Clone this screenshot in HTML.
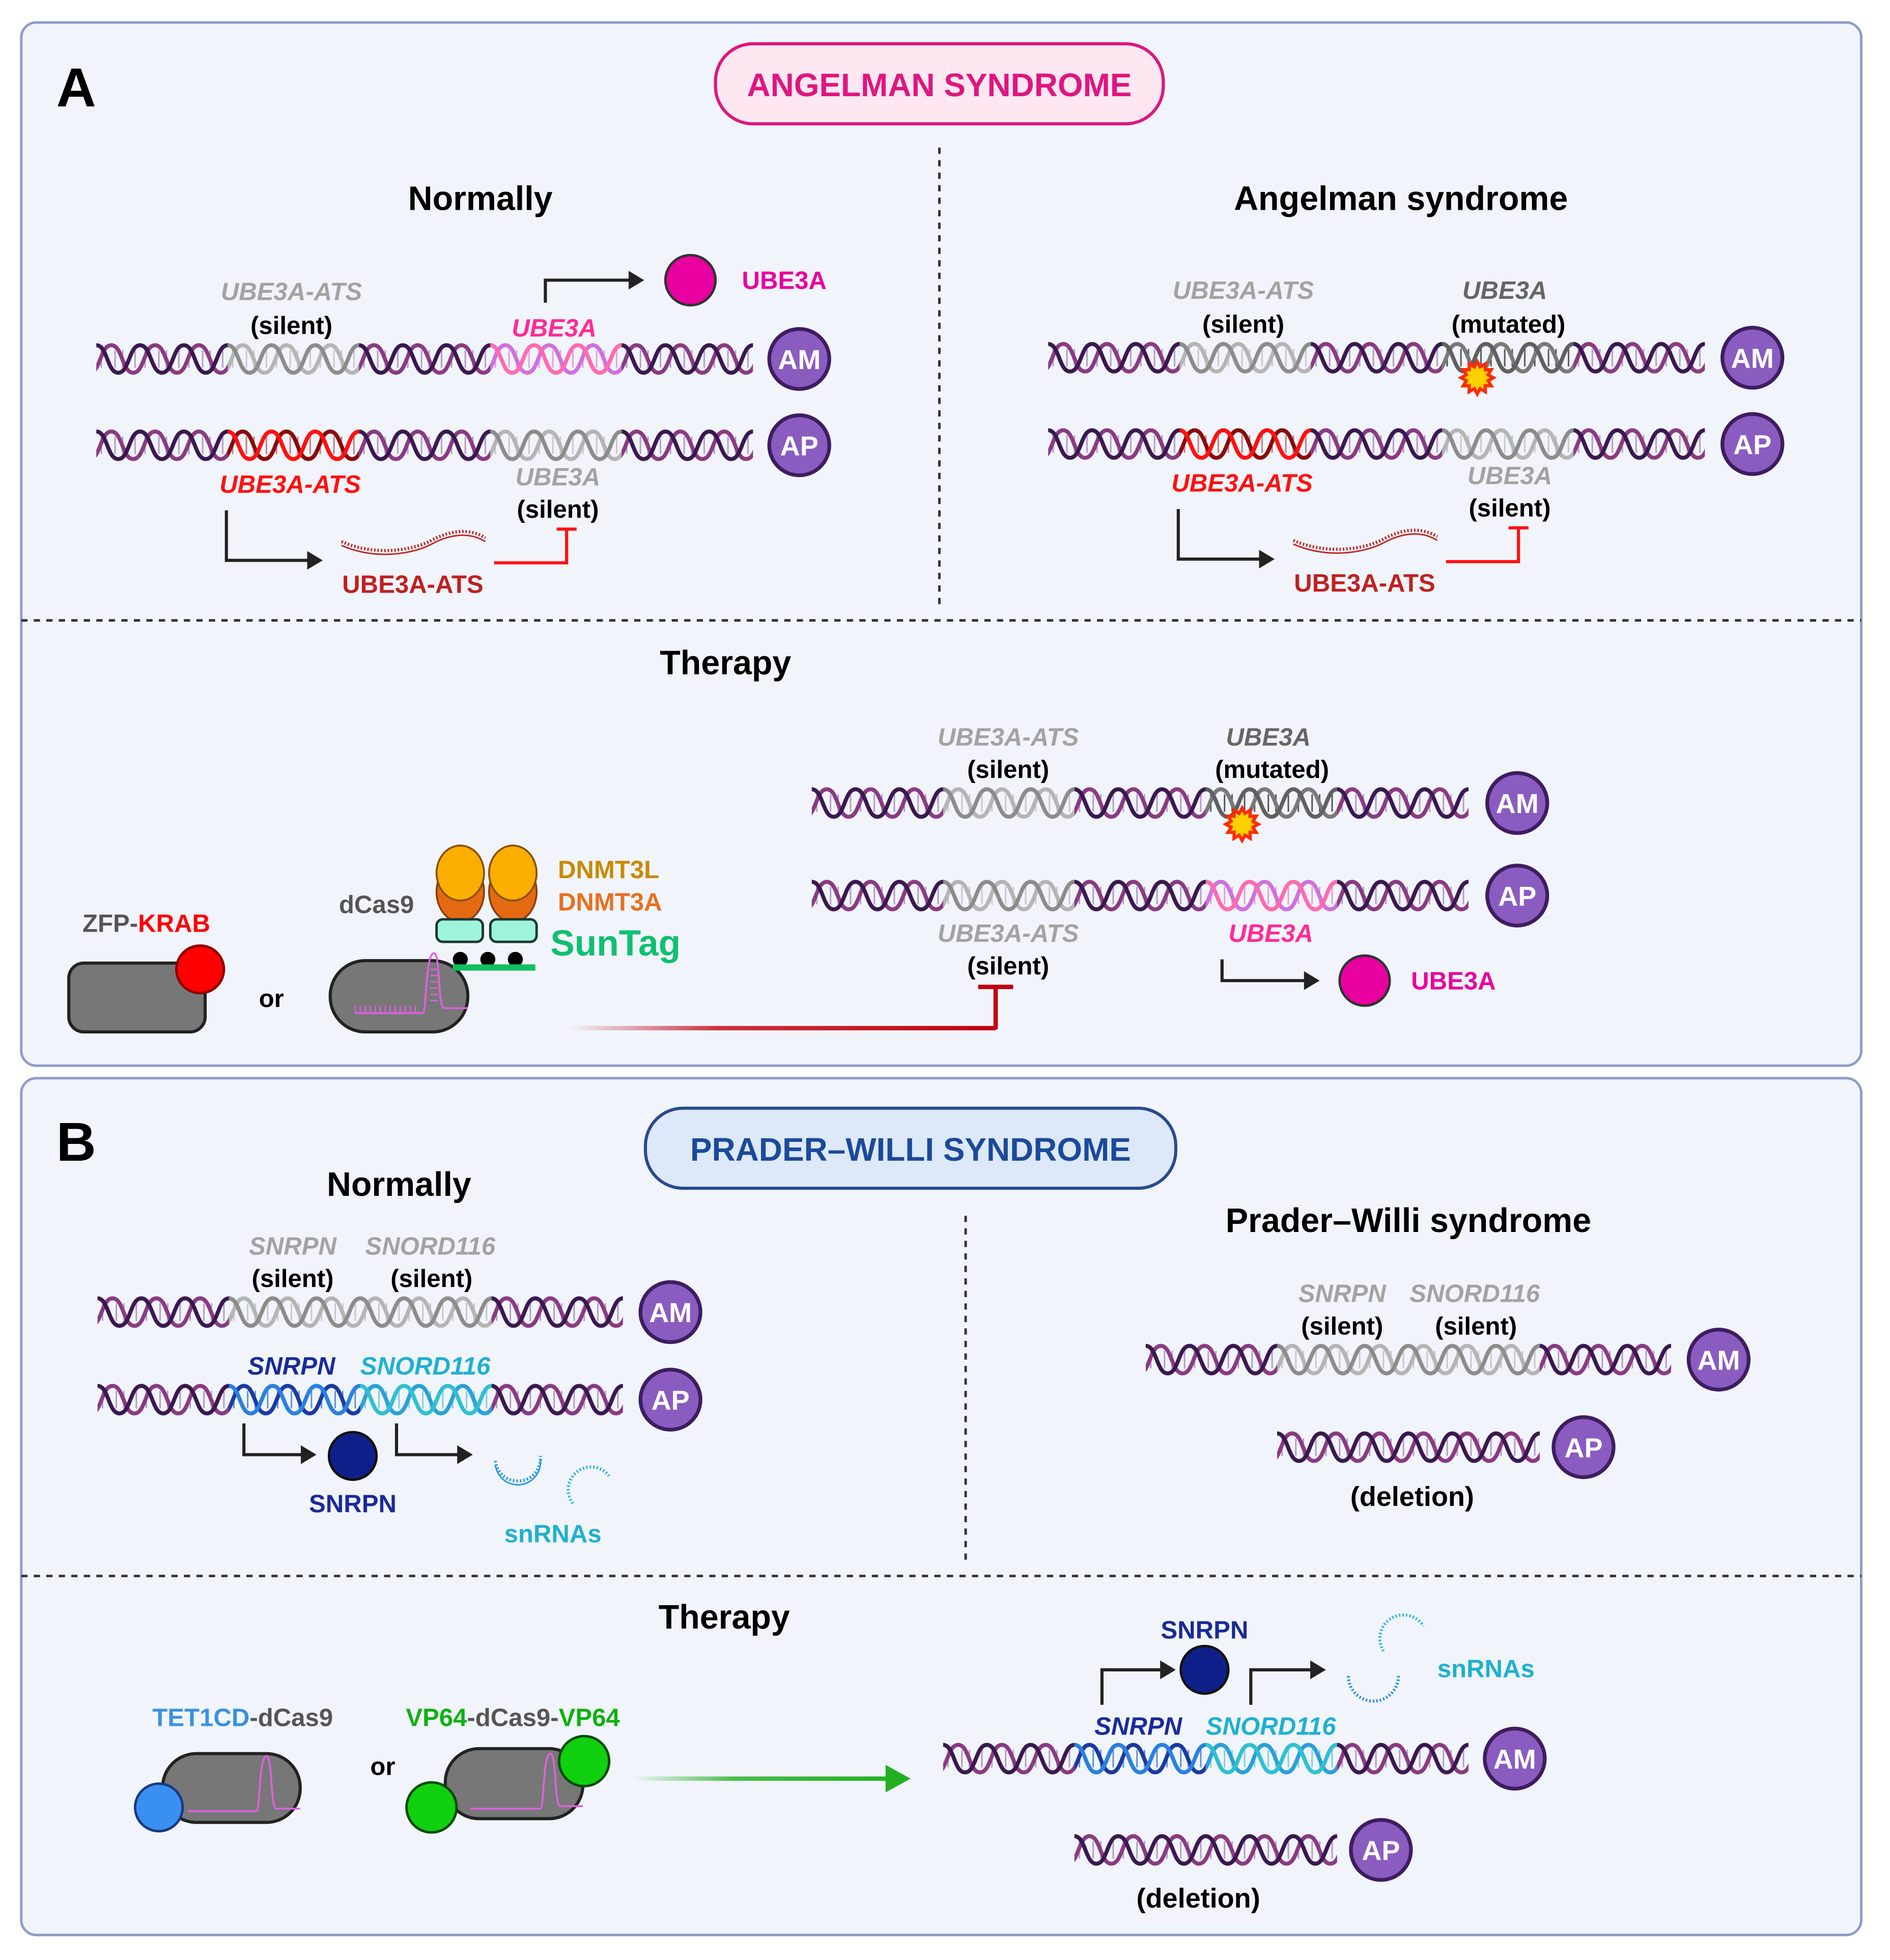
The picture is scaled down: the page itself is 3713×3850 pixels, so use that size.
<!DOCTYPE html>
<html><head><meta charset="utf-8"><style>
html,body{margin:0;padding:0;background:#fff}
svg{display:block}
text{font-family:"Liberation Sans",Arial,sans-serif;font-weight:bold}
</style></head><body>
<svg width="3713" height="3850" viewBox="0 0 1511 1567" preserveAspectRatio="none" xmlns="http://www.w3.org/2000/svg">
<defs>
<g id="rungs" stroke-width="1.2"><path d="M4,6V20M15,6V20M21,6V20M31,6V20"/></g>
<g id="sA"><path d="M0,2 C9,2 8.5,24 17.5,24 S26,2 35,2" fill="none"/></g>
<g id="sB"><path d="M-35,2 C-26,2 -26.5,24 -17.5,24 S-9,2 0,2 S8.5,24 17.5,24 S26,2 35,2" fill="none" transform="translate(12,0)"/></g>
<pattern id="pu" width="35" height="26" patternUnits="userSpaceOnUse"><use href="#rungs" stroke="#b89ac8"/><use href="#sB" stroke="#8a3a82" stroke-width="3.2"/><use href="#sA" stroke="#3a1850" stroke-width="3.2"/></pattern>
<pattern id="gr" width="35" height="26" patternUnits="userSpaceOnUse"><use href="#rungs" stroke="#c8c8c8"/><use href="#sB" stroke="#b5b5b5" stroke-width="3.2"/><use href="#sA" stroke="#8c8c8c" stroke-width="3.2"/></pattern>
<pattern id="dg" width="35" height="26" patternUnits="userSpaceOnUse"><use href="#rungs" stroke="#555"/><use href="#sB" stroke="#7a7a7a" stroke-width="3.2"/><use href="#sA" stroke="#606060" stroke-width="3.2"/></pattern>
<pattern id="pk" width="35" height="26" patternUnits="userSpaceOnUse"><use href="#rungs" stroke="#e0a0e0"/><use href="#sB" stroke="#d070e0" stroke-width="3.2"/><use href="#sA" stroke="#ff6ab0" stroke-width="3.2"/></pattern>
<pattern id="rd" width="35" height="26" patternUnits="userSpaceOnUse"><use href="#rungs" stroke="#c08080"/><use href="#sB" stroke="#8a0a0a" stroke-width="3.2"/><use href="#sA" stroke="#ff1010" stroke-width="3.2"/></pattern>
<pattern id="bl" width="35" height="26" patternUnits="userSpaceOnUse"><use href="#rungs" stroke="#6090d8"/><use href="#sB" stroke="#1a3aa0" stroke-width="3.2"/><use href="#sA" stroke="#2a80e0" stroke-width="3.2"/></pattern>
<pattern id="cy" width="35" height="26" patternUnits="userSpaceOnUse"><use href="#rungs" stroke="#80d0e0"/><use href="#sB" stroke="#2aa0d8" stroke-width="3.2"/><use href="#sA" stroke="#30c0d0" stroke-width="3.2"/></pattern>
<polygon id="star" points="13,0 8.69,2.33 11.26,6.5 6.36,6.36 6.5,11.26 2.33,8.69 0,13 -2.33,8.69 -6.5,11.26 -6.36,6.36 -11.26,6.5 -8.69,2.33 -13,0 -8.69,-2.33 -11.26,-6.5 -6.36,-6.36 -6.5,-11.26 -2.33,-8.69 0,-13 2.33,-8.69 6.5,-11.26 6.36,-6.36 11.26,-6.5 8.69,-2.33" fill="#ffd000" stroke="#ff2a00" stroke-width="2.5"/>
<marker id="ah" markerWidth="6" markerHeight="6" refX="1" refY="3" orient="auto" markerUnits="strokeWidth"><path d="M0,0L5,3L0,6z" fill="#222"/></marker>
<linearGradient id="redg" gradientUnits="userSpaceOnUse" x1="455" x2="796" y1="0" y2="0"><stop offset="0" stop-color="#c00010" stop-opacity="0"/><stop offset="0.35" stop-color="#c00010" stop-opacity="0.8"/><stop offset="1" stop-color="#c00010"/></linearGradient>
<linearGradient id="grng" gradientUnits="userSpaceOnUse" x1="505" x2="712" y1="0" y2="0"><stop offset="0" stop-color="#20b020" stop-opacity="0"/><stop offset="0.4" stop-color="#20b020" stop-opacity="0.8"/><stop offset="1" stop-color="#20b020"/></linearGradient>
<g id="chrAM"><circle r="24" fill="#8a5cc0" stroke="#3e1d60" stroke-width="3"/><text y="8" text-anchor="middle" font-size="22" fill="#fff">AM</text></g>
<g id="chrAP"><circle r="24" fill="#8a5cc0" stroke="#3e1d60" stroke-width="3"/><text y="8" text-anchor="middle" font-size="22" fill="#fff">AP</text></g>
</defs>

<rect x="0" y="0" width="1511" height="1567" fill="#fff"/>
<rect x="17" y="18" width="1471" height="834" rx="12" fill="#f1f5fb" stroke="#8e9cc8" stroke-width="2"/>
<rect x="17" y="862" width="1471" height="685" rx="12" fill="#f1f5fb" stroke="#8e9cc8" stroke-width="2"/>
<text x="45" y="85" font-size="44" fill="#000">A</text>
<text x="45" y="928" font-size="44" fill="#000">B</text>

<rect x="572" y="35" width="358" height="64" rx="30" fill="#fde8f2" stroke="#e0157f" stroke-width="2.5"/>
<text x="751" y="77" text-anchor="middle" font-size="26" fill="#e0157f">ANGELMAN SYNDROME</text>
<line x1="751" y1="118" x2="751" y2="485" stroke="#333" stroke-width="2" stroke-dasharray="5,5"/>
<line x1="17" y1="496" x2="1488" y2="496" stroke="#333" stroke-width="2" stroke-dasharray="5,5"/>
<text x="384" y="168" text-anchor="middle" font-size="27">Normally</text>
<text x="1120" y="168" text-anchor="middle" font-size="27">Angelman syndrome</text>

<text x="233" y="240" text-anchor="middle" font-size="20" font-style="italic" fill="#a3a3a3">UBE3A-ATS</text>
<text x="233" y="267" text-anchor="middle" font-size="20">(silent)</text>
<text x="443" y="269" text-anchor="middle" font-size="20" font-style="italic" fill="#ff2a96">UBE3A</text>
<path d="M436,242V224H505" fill="none" stroke="#222" stroke-width="2.5" marker-end="url(#ah)"/>
<circle cx="552" cy="224" r="20" fill="#e800a0" stroke="#333" stroke-width="2"/>
<text x="627" y="231" text-anchor="middle" font-size="20" fill="#e800a0">UBE3A</text>
<g transform="translate(77,274)"><rect width="106" height="26" fill="url(#pu)"/><rect x="105" width="105" height="26" fill="url(#gr)"/><rect x="210" width="105" height="26" fill="url(#pu)"/><rect x="315" width="105" height="26" fill="url(#pk)"/><rect x="420" width="105" height="26" fill="url(#pu)"/></g>
<use href="#chrAM" x="639" y="287"/>
<g transform="translate(77,343)"><rect width="106" height="26" fill="url(#pu)"/><rect x="105" width="105" height="26" fill="url(#rd)"/><rect x="210" width="105" height="26" fill="url(#pu)"/><rect x="315" width="105" height="26" fill="url(#gr)"/><rect x="420" width="105" height="26" fill="url(#pu)"/></g>
<use href="#chrAP" x="639" y="356"/>
<text x="232" y="394" text-anchor="middle" font-size="20" font-style="italic" fill="#ff1010">UBE3A-ATS</text>
<text x="446" y="388" text-anchor="middle" font-size="20" font-style="italic" fill="#a3a3a3">UBE3A</text>
<text x="446" y="414" text-anchor="middle" font-size="20">(silent)</text>
<path d="M181,408V448H248" fill="none" stroke="#222" stroke-width="2.5" marker-end="url(#ah)"/>
<path d="M273,433 C300,445 330,440 345,432 S375,422 388,430" fill="none" stroke="#c02828" stroke-width="2.5" stroke-dasharray="1.2,1.5"/>
<path d="M273,436 C300,448 330,443 345,435 S375,425 388,433" fill="none" stroke="#c02828" stroke-width="1.2"/>
<text x="330" y="474" text-anchor="middle" font-size="20" fill="#c02020">UBE3A-ATS</text>
<path d="M395,450H453V423M445,423H461" fill="none" stroke="#ff1010" stroke-width="2.5"/>

<text x="994" y="239" text-anchor="middle" font-size="20" font-style="italic" fill="#a3a3a3">UBE3A-ATS</text>
<text x="994" y="266" text-anchor="middle" font-size="20">(silent)</text>
<text x="1203" y="239" text-anchor="middle" font-size="20" font-style="italic" fill="#666">UBE3A</text>
<text x="1206" y="266" text-anchor="middle" font-size="20">(mutated)</text>
<g transform="translate(838,273)"><rect width="106" height="26" fill="url(#pu)"/><rect x="105" width="105" height="26" fill="url(#gr)"/><rect x="210" width="105" height="26" fill="url(#pu)"/><rect x="315" width="105" height="26" fill="url(#dg)"/><rect x="420" width="105" height="26" fill="url(#pu)"/></g>
<use href="#star" x="1181" y="302"/>
<use href="#chrAM" x="1401" y="286"/>
<g transform="translate(838,342)"><rect width="106" height="26" fill="url(#pu)"/><rect x="105" width="105" height="26" fill="url(#rd)"/><rect x="210" width="105" height="26" fill="url(#pu)"/><rect x="315" width="105" height="26" fill="url(#gr)"/><rect x="420" width="105" height="26" fill="url(#pu)"/></g>
<use href="#chrAP" x="1401" y="355"/>
<text x="993" y="393" text-anchor="middle" font-size="20" font-style="italic" fill="#ff1010">UBE3A-ATS</text>
<text x="1207" y="387" text-anchor="middle" font-size="20" font-style="italic" fill="#a3a3a3">UBE3A</text>
<text x="1207" y="413" text-anchor="middle" font-size="20">(silent)</text>
<path d="M942,407V447H1009" fill="none" stroke="#222" stroke-width="2.5" marker-end="url(#ah)"/>
<path d="M1034,432 C1061,444 1091,439 1106,431 S1136,421 1149,429" fill="none" stroke="#c02828" stroke-width="2.5" stroke-dasharray="1.2,1.5"/>
<path d="M1034,435 C1061,447 1091,442 1106,434 S1136,424 1149,432" fill="none" stroke="#c02828" stroke-width="1.2"/>
<text x="1091" y="473" text-anchor="middle" font-size="20" fill="#c02020">UBE3A-ATS</text>
<path d="M1156,449H1214V422M1206,422H1222" fill="none" stroke="#ff1010" stroke-width="2.5"/>

<text x="580" y="539" text-anchor="middle" font-size="27">Therapy</text>
<text x="806" y="596" text-anchor="middle" font-size="20" font-style="italic" fill="#a3a3a3">UBE3A-ATS</text>
<text x="806" y="622" text-anchor="middle" font-size="20">(silent)</text>
<text x="1014" y="596" text-anchor="middle" font-size="20" font-style="italic" fill="#666">UBE3A</text>
<text x="1017" y="622" text-anchor="middle" font-size="20">(mutated)</text>
<g transform="translate(649,629)"><rect width="106" height="26" fill="url(#pu)"/><rect x="105" width="105" height="26" fill="url(#gr)"/><rect x="210" width="105" height="26" fill="url(#pu)"/><rect x="315" width="105" height="26" fill="url(#dg)"/><rect x="420" width="105" height="26" fill="url(#pu)"/></g>
<use href="#star" x="993" y="659"/>
<use href="#chrAM" x="1213" y="642"/>
<g transform="translate(649,703)"><rect width="106" height="26" fill="url(#pu)"/><rect x="105" width="105" height="26" fill="url(#gr)"/><rect x="210" width="105" height="26" fill="url(#pu)"/><rect x="315" width="105" height="26" fill="url(#pk)"/><rect x="420" width="105" height="26" fill="url(#pu)"/></g>
<use href="#chrAP" x="1213" y="716"/>
<text x="806" y="753" text-anchor="middle" font-size="20" font-style="italic" fill="#a3a3a3">UBE3A-ATS</text>
<text x="806" y="779" text-anchor="middle" font-size="20">(silent)</text>
<text x="1016" y="753" text-anchor="middle" font-size="20" font-style="italic" fill="#ff2a96">UBE3A</text>
<path d="M977,767V784H1045" fill="none" stroke="#222" stroke-width="2.5" marker-end="url(#ah)"/>
<circle cx="1091" cy="784" r="20" fill="#e800a0" stroke="#333" stroke-width="2"/>
<text x="1162" y="791" text-anchor="middle" font-size="20" fill="#e800a0">UBE3A</text>
<path d="M455,822H796" fill="none" stroke="url(#redg)" stroke-width="3.5"/>
<path d="M796,823V790" stroke="#c00010" stroke-width="3.5"/>
<line x1="782" y1="789" x2="810" y2="789" stroke="#c00010" stroke-width="3.5"/>

<text x="117" y="745" text-anchor="middle" font-size="20"><tspan fill="#555">ZFP-</tspan><tspan fill="#ff0000">KRAB</tspan></text>
<rect x="55" y="770" width="109" height="55" rx="12" fill="#777" stroke="#222" stroke-width="2.5"/>
<circle cx="160" cy="775" r="19" fill="#ff0000" stroke="#8a0000" stroke-width="2"/>
<text x="217" y="805" text-anchor="middle" font-size="20">or</text>
<text x="301" y="730" text-anchor="middle" font-size="20" fill="#555">dCas9</text>
<rect x="264" y="768" width="110" height="57" rx="28" fill="#777" stroke="#222" stroke-width="2.5"/>
<path d="M284,810H338C341,810 340,762 347,762C352,762 350,806 355,806H374" fill="none" stroke="#e060e0" stroke-width="1.5"/>
<path d="M284,810V804M288,810V804M292,810V804M296,810V804M300,810V804M304,810V804M308,810V804M312,810V804M316,810V804M320,810V804M324,810V804M328,810V804M332,810V804M344,775H350M344,780H350M344,785H350M344,790H350M344,795H350M344,800H350" stroke="#e060e0" stroke-width="1"/>
<ellipse cx="368" cy="713" rx="19" ry="24" fill="#e46a12" stroke="#8a4010" stroke-width="1.5"/>
<ellipse cx="410" cy="713" rx="19" ry="24" fill="#e46a12" stroke="#8a4010" stroke-width="1.5"/>
<ellipse cx="368" cy="698" rx="19" ry="22" fill="#fbad00" stroke="#8a5010" stroke-width="1.5"/>
<ellipse cx="410" cy="698" rx="19" ry="22" fill="#fbad00" stroke="#8a5010" stroke-width="1.5"/>
<rect x="349" y="735" width="37" height="18" rx="5" fill="#9ff5dc" stroke="#1a3a30" stroke-width="2"/>
<rect x="392" y="735" width="37" height="18" rx="5" fill="#9ff5dc" stroke="#1a3a30" stroke-width="2"/>
<circle cx="368" cy="767" r="6" fill="#000"/><circle cx="390" cy="767" r="6" fill="#000"/><circle cx="412" cy="767" r="6" fill="#000"/>
<rect x="362" y="771" width="66" height="5" fill="#10c060"/>
<text x="446" y="702" font-size="20" fill="#c88a00">DNMT3L</text>
<text x="446" y="728" font-size="20" fill="#e87020">DNMT3A</text>
<text x="440" y="764" font-size="29" fill="#10c070">SunTag</text>

<rect x="516" y="886" width="424" height="64" rx="30" fill="#dde8f8" stroke="#2a4a90" stroke-width="2.5"/>
<text x="728" y="928" text-anchor="middle" font-size="26" fill="#1a4a9a">PRADER–WILLI SYNDROME</text>
<line x1="772" y1="972" x2="772" y2="1250" stroke="#333" stroke-width="2" stroke-dasharray="5,5"/>
<line x1="17" y1="1260" x2="1488" y2="1260" stroke="#333" stroke-width="2" stroke-dasharray="5,5"/>
<text x="319" y="956" text-anchor="middle" font-size="27">Normally</text>
<text x="1126" y="985" text-anchor="middle" font-size="27">Prader–Willi syndrome</text>

<text x="234" y="1003" text-anchor="middle" font-size="20" font-style="italic" fill="#a3a3a3">SNRPN</text>
<text x="344" y="1003" text-anchor="middle" font-size="20" font-style="italic" fill="#a3a3a3">SNORD116</text>
<text x="234" y="1029" text-anchor="middle" font-size="20">(silent)</text>
<text x="345" y="1029" text-anchor="middle" font-size="20">(silent)</text>
<g transform="translate(78,1036)"><rect width="106" height="26" fill="url(#pu)"/><rect x="105" width="210" height="26" fill="url(#gr)"/><rect x="315" width="105" height="26" fill="url(#pu)"/></g>
<use href="#chrAM" x="536" y="1049"/>
<text x="233" y="1099" text-anchor="middle" font-size="20" font-style="italic" fill="#1a2a9a">SNRPN</text>
<text x="340" y="1099" text-anchor="middle" font-size="20" font-style="italic" fill="#20b0d0">SNORD116</text>
<g transform="translate(78,1106)"><rect width="106" height="26" fill="url(#pu)"/><rect x="105" width="105" height="26" fill="url(#bl)"/><rect x="210" width="105" height="26" fill="url(#cy)"/><rect x="315" width="105" height="26" fill="url(#pu)"/></g>
<use href="#chrAP" x="536" y="1119"/>
<path d="M195,1138V1163H243" fill="none" stroke="#222" stroke-width="2.5" marker-end="url(#ah)"/>
<circle cx="282" cy="1164" r="19" fill="#0f1f8a" stroke="#111" stroke-width="2"/>
<text x="282" y="1209" text-anchor="middle" font-size="20" fill="#1a2a9a">SNRPN</text>
<path d="M317,1138V1163H368" fill="none" stroke="#222" stroke-width="2.5" marker-end="url(#ah)"/>
<path d="M396,1168 A17,17 0 0 0 432,1164" fill="none" stroke="#2a9ae0" stroke-width="2.5" stroke-dasharray="1.2,1.6"/>
<path d="M396,1168 A17,17 0 0 0 432,1164" fill="none" stroke="#2a9ae0" stroke-width="1.2" transform="translate(0,3)"/>
<path d="M458,1202 A17,17 0 0 1 487,1180" fill="none" stroke="#30b8e0" stroke-width="2.5" stroke-dasharray="1.2,1.6"/>
<text x="442" y="1233" text-anchor="middle" font-size="20" fill="#20b0d0">snRNAs</text>

<text x="1073" y="1041" text-anchor="middle" font-size="20" font-style="italic" fill="#a3a3a3">SNRPN</text>
<text x="1179" y="1041" text-anchor="middle" font-size="20" font-style="italic" fill="#a3a3a3">SNORD116</text>
<text x="1073" y="1067" text-anchor="middle" font-size="20">(silent)</text>
<text x="1180" y="1067" text-anchor="middle" font-size="20">(silent)</text>
<g transform="translate(916,1074)"><rect width="106" height="26" fill="url(#pu)"/><rect x="105" width="210" height="26" fill="url(#gr)"/><rect x="315" width="105" height="26" fill="url(#pu)"/></g>
<use href="#chrAM" x="1374" y="1087"/>
<g transform="translate(1021,1144)"><rect width="210" height="26" fill="url(#pu)"/></g>
<use href="#chrAP" x="1266" y="1157"/>
<text x="1129" y="1204" text-anchor="middle" font-size="22">(deletion)</text>

<text x="579" y="1302" text-anchor="middle" font-size="27">Therapy</text>
<text x="194" y="1380" text-anchor="middle" font-size="20"><tspan fill="#3a90e0">TET1CD</tspan><tspan fill="#555">-dCas9</tspan></text>
<rect x="130" y="1402" width="110" height="55" rx="27" fill="#777" stroke="#222" stroke-width="2.5"/>
<path d="M150,1448H205C208,1448 207,1404 213,1404C218,1404 216,1446 221,1446H240" fill="none" stroke="#e060e0" stroke-width="1.5"/>
<circle cx="127" cy="1445" r="19" fill="#3a90f0" stroke="#1a3a80" stroke-width="2"/>
<text x="306" y="1419" text-anchor="middle" font-size="20">or</text>
<text x="410" y="1380" text-anchor="middle" font-size="20"><tspan fill="#10b010">VP64</tspan><tspan fill="#555">-dCas9-</tspan><tspan fill="#10b010">VP64</tspan></text>
<rect x="356" y="1398" width="110" height="56" rx="27" fill="#777" stroke="#222" stroke-width="2.5"/>
<path d="M376,1446H432C435,1446 434,1402 440,1402C445,1402 443,1444 448,1444H466" fill="none" stroke="#e060e0" stroke-width="1.5"/>
<circle cx="467" cy="1408" r="20" fill="#10d010" stroke="#0a4a0a" stroke-width="2"/>
<circle cx="345" cy="1445" r="20" fill="#10d010" stroke="#0a4a0a" stroke-width="2"/>
<path d="M505,1422H710" fill="none" stroke="url(#grng)" stroke-width="3.5"/>
<path d="M708,1411L728,1422L708,1433z" fill="#20b020"/>

<text x="963" y="1310" text-anchor="middle" font-size="20" fill="#1a2a9a">SNRPN</text>
<path d="M881,1363V1335H930" fill="none" stroke="#222" stroke-width="2.5" marker-end="url(#ah)"/>
<circle cx="963" cy="1335" r="19" fill="#0f1f8a" stroke="#111" stroke-width="2"/>
<path d="M1000,1363V1335H1050" fill="none" stroke="#222" stroke-width="2.5" marker-end="url(#ah)"/>
<path d="M1106,1320 A18,18 0 0 1 1138,1300" fill="none" stroke="#30b8e0" stroke-width="2.5" stroke-dasharray="1.2,1.6"/>
<path d="M1078,1340 A19,19 0 0 0 1118,1340" fill="none" stroke="#2a8ae0" stroke-width="2.5" stroke-dasharray="1.2,1.6"/>
<text x="1188" y="1341" text-anchor="middle" font-size="20" fill="#20b0d0">snRNAs</text>
<text x="910" y="1387" text-anchor="middle" font-size="20" font-style="italic" fill="#1a2a9a">SNRPN</text>
<text x="1016" y="1387" text-anchor="middle" font-size="20" font-style="italic" fill="#20b0d0">SNORD116</text>
<g transform="translate(754,1393)"><rect width="105" height="26" fill="url(#pu)"/><rect x="105" width="105" height="26" fill="url(#bl)"/><rect x="210" width="105" height="26" fill="url(#cy)"/><rect x="315" width="105" height="26" fill="url(#pu)"/></g>
<use href="#chrAM" x="1211" y="1406"/>
<g transform="translate(859,1466)"><rect width="210" height="26" fill="url(#pu)"/></g>
<use href="#chrAP" x="1104" y="1479"/>
<text x="958" y="1525" text-anchor="middle" font-size="22">(deletion)</text>
</svg>
</body></html>
